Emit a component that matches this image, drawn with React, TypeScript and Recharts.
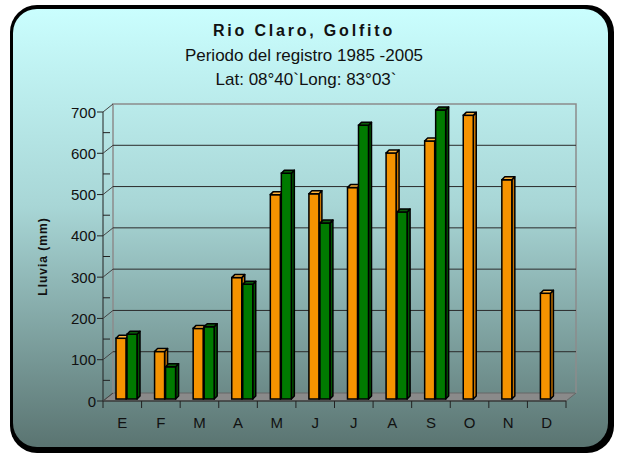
import React from 'react';
import { BarChart, Bar, XAxis, YAxis, CartesianGrid, ReferenceArea } from 'recharts';

// Monthly rainfall, Rio Claro (Golfito)
const MONTHS = ['E', 'F', 'M', 'A', 'M', 'J', 'J', 'A', 'S', 'O', 'N', 'D'];
const PROMEDIO = [147, 115, 171, 294, 495, 497, 512, 596, 625, 687, 531, 256];
const REGISTRO = [157, 78, 175, 278, 547, 426, 663, 453, 700, null, null, null];
const Y_TICKS = [0, 50, 100, 150, 200, 250, 300, 350, 400, 450, 500, 550, 600, 650, 700];
const GRID_VALUES = [100, 200, 300, 400, 500, 600];

const data = MONTHS.map((m, i) => ({ mes: m, promedio: PROMEDIO[i], registro: REGISTRO[i] }));

const FONT = '"Liberation Sans", Arial, sans-serif';
// depth of the back wall relative to the front axes
const DX = 10;
const DY = 8;
// bar depth
const BD = 3;

const makeBarShape = (front: string, side: string, top: string) => (props: any) => {
    const { x, y, width, height } = props;
    if (!height || height <= 0) return null;
    const bx = x + 4;
    const by = y - 2;
    return (
        <g>
            <polygon
                points={`${bx + width},${by} ${bx + width + BD},${by - BD} ${bx + width + BD},${by + height - BD} ${bx + width},${by + height}`}
                fill={side}
                stroke="#000"
                strokeWidth={1.5}
                strokeLinejoin="round"
            />
            <rect x={bx} y={by} width={width} height={height} fill={front} stroke="#000" strokeWidth={1.5} />
            <polygon
                points={`${bx},${by} ${bx + BD},${by - BD} ${bx + width + BD},${by - BD} ${bx + width},${by}`}
                fill={top}
                stroke="#000"
                strokeWidth={1.5}
                strokeLinejoin="round"
            />
        </g>
    );
};

const OrangeBar = makeBarShape('#f59300', '#c87400', '#ffb23a');
const GreenBar = makeBarShape('#007a00', '#005400', '#0a5a0a');

const YTick = (props: any) => {
    const { x, y, payload } = props;
    const v = payload.value;
    if (v % 100 !== 0) {
        return <line x1={x} y1={y} x2={x + 7} y2={y} stroke="#222" />;
    }
    return (
        <g>
            <line x1={x - 6} y1={y} x2={x} y2={y} stroke="#222" />
            <line x1={x} y1={y} x2={x + DX} y2={y - DY} stroke="#444" />
            <text x={x - 7} y={y} dy={5.5} textAnchor="end" fontSize={15} fontFamily={FONT} fill="#111">
                {v}
            </text>
        </g>
    );
};

const XTick = (props: any) => {
    const { x, y, payload, index, visibleTicksCount } = props;
    const half = payload.offset || 19.3;
    return (
        <g>
            <line x1={x - half} y1={y} x2={x - half} y2={y + 7} stroke="#222" />
            {index === visibleTicksCount - 1 && (
                <line x1={x + half} y1={y} x2={x + half} y2={y + 7} stroke="#222" />
            )}
            <text x={x} y={y + 27} textAnchor="middle" fontSize={15} fontFamily={FONT} fill="#111">
                {payload.value}
            </text>
        </g>
    );
};

// back wall frame and floor of the 3D box
const WallAndFloor = (props: any) => {
    const { x, y, width: w, height: h } = props;
    const b = y + h;
    return (
        <g>
            <polygon
                points={`${x},${b} ${x + w},${b} ${x + w + DX},${b - DY} ${x + DX},${b - DY}`}
                fill="#8a8a8a"
                stroke="#666"
                strokeWidth={1}
            />
            <polyline
                points={`${x + DX},${b - DY} ${x + DX},${y - DY} ${x + w + DX},${y - DY} ${x + w + DX},${b - DY}`}
                fill="none"
                stroke="#8c8c8c"
                strokeWidth={1.5}
            />
        </g>
    );
};

const GridLine = (p: any) => (
    <line key={p.key} x1={p.x1 + DX} y1={p.y1 - DY} x2={p.x2 + DX} y2={p.y2 - DY} stroke="#2a2a2a" strokeWidth={1} />
);

const YLabel = (props: any) => {
    const vb = props.viewBox || { x: 43, y: 112, height: 289 };
    const cx = vb.x + 4;
    const cy = vb.y + vb.height / 2;
    return (
        <text
            x={cx}
            y={cy}
            transform={`rotate(-90, ${cx}, ${cy})`}
            textAnchor="middle"
            fontSize={12}
            fontWeight="bold"
            letterSpacing={1}
            fontFamily={FONT}
            fill="#111"
        >
            Lluvia (mm)
        </text>
    );
};

export default function App() {
    return (
        <div style={{ position: 'absolute', left: 0, top: 0, width: 618, height: 457, background: '#fff' }}>
            <div style={{ position: 'absolute', left: 10, top: 5, width: 604, height: 448, borderRadius: 27, background: '#000' }} />
            <div
                style={{
                    position: 'absolute',
                    left: 13,
                    top: 9,
                    width: 595,
                    height: 438,
                    borderRadius: 24,
                    background: 'linear-gradient(to bottom, #cafefe 0%, #a8d6d6 45%, #5a7471 100%)',
                }}
            />
            <svg width={618} height={100} style={{ position: 'absolute', left: 0, top: 0 }}>
                <text x={304} y={36} textAnchor="middle" fontSize={16} fontWeight="bold" letterSpacing={2.8} fontFamily={FONT} fill="#111">
                    Rio Claro, Golfito
                </text>
                <text x={304} y={61} textAnchor="middle" fontSize={17} fontFamily={FONT} fill="#111">
                    Periodo del registro 1985 -2005
                </text>
                <text x={306} y={85} textAnchor="middle" fontSize={17} fontFamily={FONT} fill="#111">
                    Lat: 08°40`Long: 83°03`
                </text>
            </svg>
            <div style={{ position: 'absolute', left: 0, top: 0 }}>
                <BarChart
                    width={618}
                    height={457}
                    data={data}
                    margin={{ top: 112, right: 52, bottom: 0, left: 43 }}
                    barSize={10}
                    barGap={1}
                >
                    <ReferenceArea y1={0} y2={700} shape={WallAndFloor} ifOverflow="visible" zIndex={-200} />
                    <CartesianGrid vertical={false} horizontalValues={GRID_VALUES} horizontal={GridLine} />
                    <XAxis
                        dataKey="mes"
                        height={56}
                        tickSize={0}
                        tickMargin={0}
                        tickLine={false}
                        axisLine={{ stroke: '#222' }}
                        tick={XTick}
                        interval={0}
                    />
                    <YAxis
                        width={60}
                        domain={[0, 700]}
                        ticks={Y_TICKS}
                        interval={0}
                        tickSize={0}
                        tickMargin={0}
                        tickLine={false}
                        axisLine={{ stroke: '#222' }}
                        tick={YTick}
                        label={{ content: YLabel }}
                    />
                    <Bar dataKey="promedio" shape={OrangeBar} isAnimationActive={false} />
                    <Bar dataKey="registro" shape={GreenBar} isAnimationActive={false} />
                </BarChart>
            </div>
        </div>
    );
}
